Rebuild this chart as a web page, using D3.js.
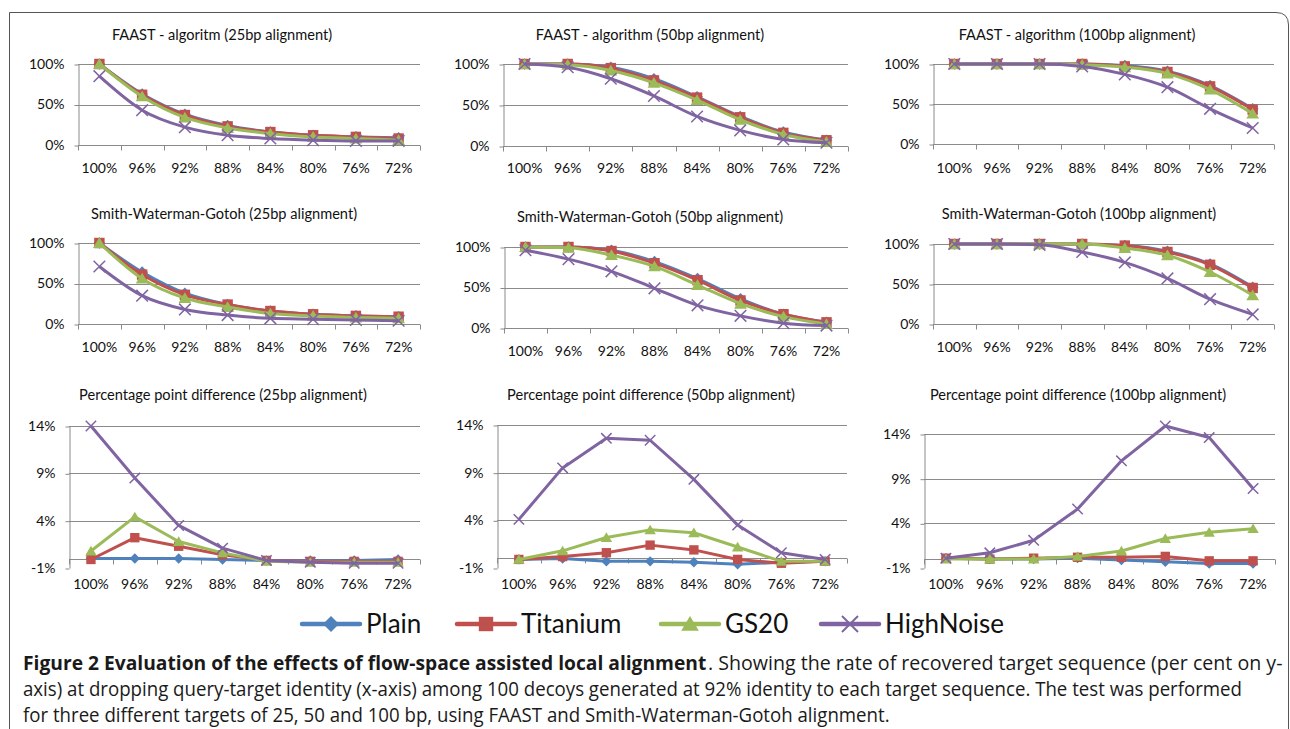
<!DOCTYPE html>
<html>
<head>
<meta charset="utf-8">
<script src="https://cdn.jsdelivr.net/npm/d3@7"></script>
<style>
  body { margin: 0; background: #fff; }
  svg { display: block; font-family: Lato, "Open Sans", sans-serif; }
</style>
</head>
<body>
<svg id="chart" width="1290" height="729"></svg>
<script>
// Categories and series
const categories = ["100%", "96%", "92%", "88%", "84%", "80%", "76%", "72%"];
const seriesNames = ["Plain", "Titanium", "GS20", "HighNoise"];
const seriesColors = ["#4f81bd", "#c0504d", "#9bbb59", "#8064a2"];
const seriesMarkers = ["diamond", "square", "triangle", "cross"];

const pctTicks = [0, 50, 100];
const diffTicks = [-1, 4, 9, 14];

// Recovered target sequence (%), order: Plain, Titanium, GS20, HighNoise
const faast25 = [
  [100, 63, 38, 24, 16, 12, 10, 9],
  [100, 62, 37, 23, 16, 12, 10, 8],
  [100, 60, 34, 21, 14, 10, 8, 6],
  [85, 43, 22, 12, 8, 6, 5, 5]
];
const faast50 = [
  [100, 100, 96, 82, 60, 36, 17, 7],
  [100, 100, 95, 80, 59, 35, 16, 7],
  [100, 99, 92, 77, 56, 32, 14, 5],
  [100, 96, 82, 61, 36, 19, 8, 4]
];
const faast100 = [
  [100, 100, 100, 100, 98, 91, 73, 44],
  [100, 100, 100, 100, 97, 90, 72, 43],
  [100, 100, 100, 99, 96, 88, 68, 38],
  [100, 100, 100, 97, 87, 71, 44, 20]
];
const swg25 = [
  [100, 64, 38, 24, 16, 12, 10, 9],
  [100, 61, 36, 24, 16, 12, 10, 9],
  [100, 56, 32, 21, 13, 10, 8, 7],
  [71, 35, 18, 11, 7, 6, 5, 4]
];
const swg50 = [
  [100, 100, 96, 82, 61, 36, 17, 7],
  [100, 100, 95, 80, 59, 34, 17, 7],
  [100, 99, 90, 76, 53, 30, 14, 5],
  [96, 85, 70, 49, 28, 15, 6, 3]
];
const swg100 = [
  [100, 100, 100, 100, 98, 91, 75, 46],
  [100, 100, 100, 100, 98, 90, 74, 45],
  [100, 100, 100, 100, 95, 86, 65, 36],
  [100, 100, 99, 90, 77, 57, 31, 12]
];

// Percentage point difference
const diff25 = [
  [0, 0, 0, -0.1, -0.2, -0.2, -0.2, -0.1],
  [-0.1, 2.2, 1.3, 0.4, -0.2, -0.3, -0.3, -0.3],
  [0.8, 4.4, 1.8, 0.6, -0.3, -0.4, -0.4, -0.4],
  [14, 8.5, 3.5, 1.1, -0.2, -0.4, -0.5, -0.5]
];
const diff50 = [
  [-0.1, 0, -0.3, -0.3, -0.4, -0.6, -0.4, -0.3],
  [-0.1, 0.2, 0.6, 1.4, 0.9, -0.1, -0.5, -0.3],
  [-0.1, 0.8, 2.2, 3.0, 2.7, 1.2, -0.3, -0.3],
  [4.1, 9.5, 12.6, 12.4, 8.3, 3.5, 0.6, -0.1]
];
const diff100 = [
  [0.1, 0, 0, 0.1, -0.1, -0.3, -0.5, -0.5],
  [0.1, 0, 0.1, 0.2, 0.2, 0.3, -0.2, -0.2],
  [0, 0, 0, 0.3, 0.9, 2.3, 3.0, 3.4],
  [0.1, 0.7, 2.1, 5.6, 11.0, 14.9, 13.6, 7.9]
];

// Caption lines
const captionBold = "Figure 2 Evaluation of the effects of flow-space assisted local alignment";
const captionLines = [
  ". Showing the rate of recovered target sequence (per cent on y-",
  "axis) at dropping query-target identity (x-axis) among 100 decoys generated at 92% identity to each target sequence. The test was performed",
  "for three different targets of 25, 50 and 100 bp, using FAAST and Smith-Waterman-Gotoh alignment."
];

// Panel layout
const panels = [
  { title: "FAAST - algoritm (25bp alignment)", data: faast25, kind: "pct",
    left: 78, right: 420, top: 64, bottom: 145, titleX: 222, titleY: 35, labelY: 168 },
  { title: "FAAST - algorithm (50bp alignment)", data: faast50, kind: "pct",
    left: 503, right: 848, top: 64, bottom: 146, titleX: 650, titleY: 35, labelY: 168 },
  { title: "FAAST - algorithm (100bp alignment)", data: faast100, kind: "pct",
    left: 933, right: 1274, top: 64, bottom: 144, titleX: 1077, titleY: 35, labelY: 168 },
  { title: "Smith-Waterman-Gotoh (25bp alignment)", data: swg25, kind: "pct",
    left: 78, right: 420, top: 243, bottom: 324, titleX: 224, titleY: 214, labelY: 347 },
  { title: "Smith-Waterman-Gotoh (50bp alignment)", data: swg50, kind: "pct",
    left: 504, right: 848, top: 247, bottom: 328, titleX: 650, titleY: 217, labelY: 351 },
  { title: "Smith-Waterman-Gotoh (100bp alignment)", data: swg100, kind: "pct",
    left: 933, right: 1274, top: 244, bottom: 324, titleX: 1079, titleY: 214, labelY: 347 },
  { title: "Percentage point difference (25bp alignment)", data: diff25, kind: "diff",
    left: 69, right: 420, top: 426, bottom: 568, titleX: 223, titleY: 395, labelY: 584 },
  { title: "Percentage point difference (50bp alignment)", data: diff50, kind: "diff",
    left: 497, right: 847, top: 425, bottom: 568, titleX: 651, titleY: 395, labelY: 584 },
  { title: "Percentage point difference (100bp alignment)", data: diff100, kind: "diff",
    left: 924, right: 1275, top: 434, bottom: 568, titleX: 1078, titleY: 395, labelY: 584 }
];

const gridColor = "#8a8a8a";
const svg = d3.select("#chart");

// Outer frame with rounded top-right corner
svg.append("path")
  .attr("d", "M9.5,729 V12.5 H1276 Q1288.5,12.5 1288.5,25 V729")
  .attr("fill", "none")
  .attr("stroke", "#555")
  .attr("stroke-width", 1);

function markerPath(type, r) {
  switch (type) {
    case "diamond": return `M0,${-r}L${r},0L0,${r}L${-r},0Z`;
    case "square": { const s = r * 0.9; return `M${-s},${-s}H${s}V${s}H${-s}Z`; }
    case "triangle": return `M0,${-r}L${r * 1.1},${r * 0.85}L${-r * 1.1},${r * 0.85}Z`;
    default: return `M${-r},${-r}L${r},${r}M${-r},${r}L${r},${-r}`;
  }
}

function drawMarker(sel, type, color, r) {
  const p = sel.append("path").attr("d", markerPath(type, r));
  if (type === "cross") {
    p.attr("fill", "none").attr("stroke", color).attr("stroke-width", 1.5);
  } else {
    p.attr("fill", color);
  }
  return p;
}

function drawPanel(p) {
  const isPct = p.kind === "pct";
  const x = d3.scaleBand().domain(categories).range([p.left, p.right]).padding(0);
  const y = d3.scaleLinear()
    .domain(isPct ? [0, 100] : [-1, 14])
    .range([p.bottom, p.top]);
  const ticks = isPct ? pctTicks : diffTicks;
  const g = svg.append("g");

  // Title
  g.append("text")
    .attr("x", p.titleX)
    .attr("y", p.titleY)
    .attr("dy", "0.35em")
    .attr("text-anchor", "middle")
    .style("font-size", "14.6px")
    .style("fill", "#111")
    .text(p.title);

  // Horizontal gridlines
  g.selectAll(".grid")
    .data(ticks.filter(t => t > 0))
    .enter()
    .append("line")
    .attr("x1", p.left)
    .attr("x2", p.right)
    .attr("y1", d => Math.round(y(d)) + 0.5)
    .attr("y2", d => Math.round(y(d)) + 0.5)
    .attr("stroke", gridColor)
    .attr("stroke-width", 1);

  // Y axis
  const yAxis = d3.axisLeft(y)
    .tickValues(ticks)
    .tickSize(4)
    .tickSizeOuter(0)
    .tickPadding(10)
    .tickFormat(d => d + "%");
  const ya = g.append("g")
    .attr("transform", `translate(${p.left + 0.5},0)`)
    .call(yAxis);
  ya.select(".domain").attr("stroke", gridColor);
  ya.selectAll(".tick line").attr("stroke", gridColor)
    .attr("transform", "translate(0,0.5)");
  ya.selectAll(".tick text")
    .style("font-size", "14px")
    .style("font-family", "Lato, 'Open Sans', sans-serif")
    .attr("fill", "#111");

  // X axis line at zero, with tick marks between categories
  const y0 = Math.round(y(0)) + 0.5;
  g.append("line")
    .attr("x1", p.left).attr("x2", p.right)
    .attr("y1", y0).attr("y2", y0)
    .attr("stroke", gridColor);
  const bounds = categories.map(c => x(c)).concat([p.right]);
  g.selectAll(".xtick")
    .data(bounds)
    .enter()
    .append("line")
    .attr("x1", d => Math.round(d) + 0.5)
    .attr("x2", d => Math.round(d) + 0.5)
    .attr("y1", y0)
    .attr("y2", y0 + 5)
    .attr("stroke", gridColor);

  g.selectAll(".xlabel")
    .data(categories)
    .enter()
    .append("text")
    .attr("x", d => x(d) + x.bandwidth() / 2)
    .attr("y", p.labelY)
    .attr("dy", "0.35em")
    .attr("text-anchor", "middle")
    .style("font-size", "14px")
    .style("fill", "#111")
    .text(d => d);

  // Series
  const line = d3.line()
    .x((d, i) => x(categories[i]) + x.bandwidth() / 2)
    .y(d => y(d))
    .curve(isPct ? d3.curveMonotoneX : d3.curveLinear);

  const markerR = isPct ? 5.8 : 5.2;
  p.data.forEach((values, si) => {
    const color = seriesColors[si];
    g.append("path")
      .datum(values)
      .attr("fill", "none")
      .attr("stroke", color)
      .attr("stroke-width", 3)
      .attr("stroke-linejoin", "round")
      .attr("d", line);
    const mg = g.append("g");
    values.forEach((v, i) => {
      const m = mg.append("g")
        .attr("transform", `translate(${x(categories[i]) + x.bandwidth() / 2},${y(v)})`);
      drawMarker(m, seriesMarkers[si], color, markerR);
    });
  });
}

panels.forEach(drawPanel);

// Legend
const legendX = [302, 457, 661, 821];
const legendY = 624;
const legend = svg.append("g");
seriesNames.forEach((name, i) => {
  const lg = legend.append("g").attr("transform", `translate(${legendX[i]},${legendY})`);
  lg.append("line")
    .attr("x1", 0).attr("x2", 58)
    .attr("y1", 0).attr("y2", 0)
    .attr("stroke", seriesColors[i])
    .attr("stroke-width", 4.5)
    .attr("stroke-linecap", "round");
  const m = lg.append("g").attr("transform", "translate(29,0)");
  drawMarker(m, seriesMarkers[i], seriesColors[i], 8).attr("stroke-width", 2);
  lg.append("text")
    .attr("x", 64)
    .attr("y", 0)
    .attr("dy", "0.35em")
    .style("font-size", "26px")
    .style("fill", "#111")
    .text(name);
});

// Caption: condensed look by squeezing each line horizontally to its width
const caption = svg.append("g")
  .style("font-family", "'Open Sans', sans-serif")
  .style("font-size", "20px")
  .style("fill", "#1a1a1a");

function fitText(text, x, y, width, bold) {
  const t = caption.append("text").attr("x", 0).attr("y", 0).text(text);
  if (bold) t.style("font-weight", "bold");
  const natural = t.node().getComputedTextLength();
  t.attr("transform", `translate(${x},${y}) scale(${width / natural},1)`);
}

fitText(captionBold, 23, 670, 684, true);
fitText(captionLines[0], 708, 670, 575, false);
fitText(captionLines[1], 23, 696, 1220, false);
fitText(captionLines[2], 23, 722, 867, false);
</script>
</body>
</html>
